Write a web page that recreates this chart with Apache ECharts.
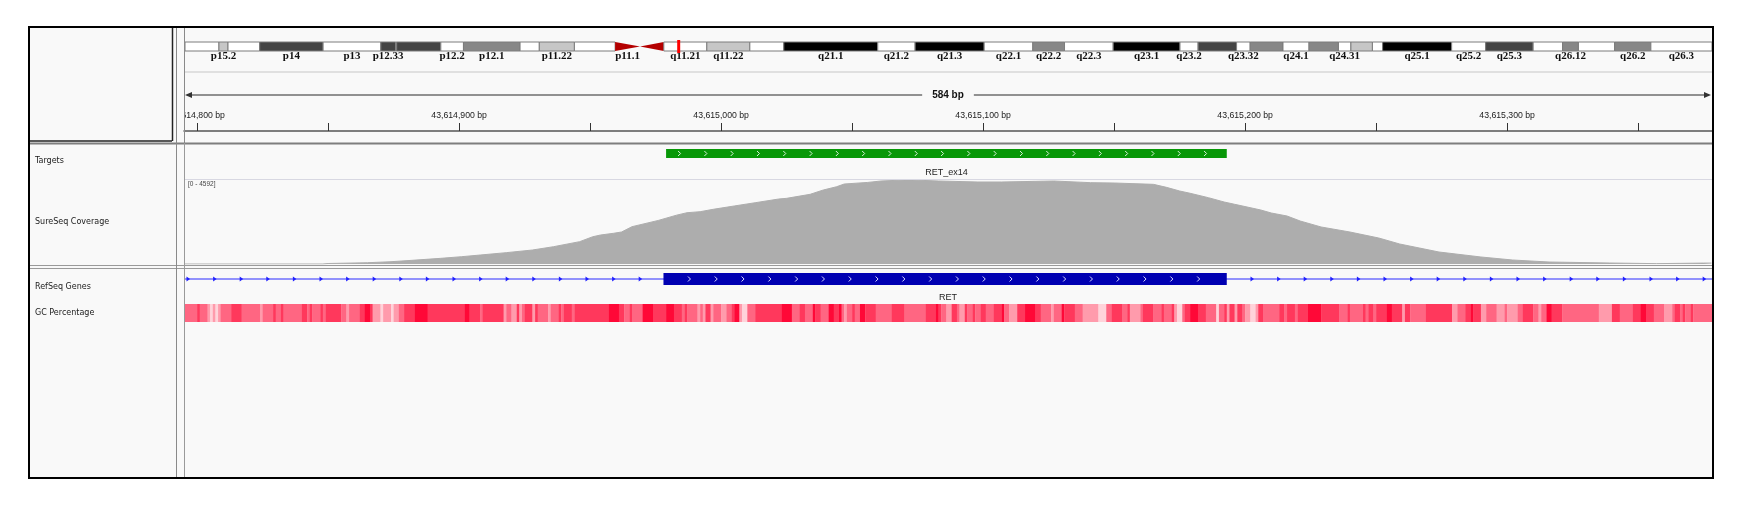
<!DOCTYPE html>
<html>
<head>
<meta charset="utf-8">
<title>RET_ex14 - SureSeq coverage</title>
<script src="https://cdn.jsdelivr.net/npm/echarts@6.0.0/dist/echarts.min.js"></script>
<style>
	html, body { margin: 0; padding: 0; background: #ffffff; }
	#chart { width: 1743px; height: 507px; }
</style>
</head>
<body>
<div id="chart"></div>
<script>
//   locus: chr10, RET exon 14
var viewStart = 43614795.0;
var viewEnd = 43615378.2;

//   ruler
var rulerTicks = [43614800, 43614850, 43614900, 43614950, 43615000, 43615050, 43615100, 43615150, 43615200, 43615250, 43615300, 43615350];
var rulerLabels = [43614800, 43614900, 43615000, 43615100, 43615200, 43615300];

//   chr10 ideogram (Mb)
var chrShownEnd = 134.9;
var currentLocusMb = 43.615;
var bandName = ['p15.3', 'p15.2', 'p15.1', 'p14', 'p13', 'p12.33', 'p12.32', 'p12.31', 'p12.2', 'p12.1', 'p11.23', 'p11.22', 'p11.21', 'p11.1', 'q11.1', 'q11.21', 'q11.22', 'q11.23', 'q21.1', 'q21.2', 'q21.3', 'q22.1', 'q22.2', 'q22.3', 'q23.1', 'q23.2', 'q23.31', 'q23.32', 'q23.33', 'q24.1', 'q24.2', 'q24.31', 'q24.32', 'q24.33', 'q25.1', 'q25.2', 'q25.3', 'q26.11', 'q26.12', 'q26.13', 'q26.2', 'q26.3'];
var bandEnd = [3.0, 3.8, 6.6, 12.2, 17.3, 18.6, 18.7, 22.6, 24.6, 29.6, 31.3, 34.4, 38.0, 40.2, 42.3, 46.1, 49.9, 52.9, 61.2, 64.5, 70.6, 74.9, 77.7, 82.0, 87.9, 89.5, 92.9, 94.1, 97.0, 99.3, 101.9, 103.0, 104.9, 105.8, 111.9, 114.9, 119.1, 121.7, 123.1, 126.3, 129.5, 135.5];
var bandStain = ['gneg', 'gpos25', 'gneg', 'gpos75', 'gneg', 'gpos75', 'gneg', 'gpos75', 'gneg', 'gpos50', 'gneg', 'gpos25', 'gneg', 'acen', 'acen', 'gneg', 'gpos25', 'gneg', 'gpos100', 'gneg', 'gpos100', 'gneg', 'gpos50', 'gneg', 'gpos100', 'gneg', 'gpos75', 'gneg', 'gpos50', 'gneg', 'gpos50', 'gneg', 'gpos25', 'gneg', 'gpos100', 'gneg', 'gpos75', 'gneg', 'gpos50', 'gneg', 'gpos50', 'gneg'];
var bandLabels = ['p15.2', 'p14', 'p13', 'p12.33', 'p12.2', 'p12.1', 'p11.22', 'p11.1', 'q11.21', 'q11.22', 'q21.1', 'q21.2', 'q21.3', 'q22.1', 'q22.2', 'q22.3', 'q23.1', 'q23.2', 'q23.32', 'q24.1', 'q24.31', 'q25.1', 'q25.2', 'q25.3', 'q26.12', 'q26.2', 'q26.3'];

//   Targets
var targetName = 'RET_ex14';
var targetStart = 43614979;
var targetEnd = 43615193;

//   SureSeq Coverage  [position, depth]
var covMax = 4592;
var coverage = [
	[43614795, 0], [43614848, 0], [43614850, 27], [43614865, 70], [43614874, 125], [43614882, 200],
	[43614893, 310], [43614901, 400], [43614908, 490], [43614918, 620], [43614928, 765], [43614936, 945],
	[43614946, 1220], [43614951, 1490], [43614954, 1585], [43614959, 1680], [43614962, 1750], [43614966, 2040],
	[43614976, 2380], [43614983, 2670], [43614987, 2804], [43614992, 2859], [43614997, 2990], [43615005, 3171],
	[43615013, 3350], [43615022, 3553], [43615025, 3590], [43615034, 3810], [43615039, 4045], [43615044, 4220],
	[43615047, 4373], [43615056, 4460], [43615061, 4537], [43615070, 4592], [43615073, 4592], [43615083, 4537],
	[43615098, 4483], [43615107, 4483], [43615127, 4537], [43615141, 4446], [43615150, 4428], [43615165, 4355],
	[43615170, 4190], [43615175, 3991], [43615179, 3866], [43615186, 3625], [43615192, 3389], [43615196, 3264],
	[43615206, 2952], [43615210, 2788], [43615216, 2624], [43615221, 2351], [43615229, 2023], [43615240, 1749],
	[43615251, 1421], [43615259, 1093], [43615274, 656], [43615290, 383], [43615302, 219], [43615316, 109],
	[43615339, 55], [43615357, 20], [43615375, 50], [43615378, 50]
];

//   RefSeq Genes
var geneName = 'RET';
var geneStart = 43572517;
var geneEnd = 43625799;
var exonStart = 43614978;
var exonEnd = 43615193;

//   GC Percentage: runs of [end offset from gcOrigin, GC %]
var gcOrigin = 43614795;
var gcRuns = [
	[5, 45], [6, 55], [9, 45], [10, 35], [11, 25], [12, 35], [13, 25], [14, 35], [18, 45], [22, 55],
	[29, 45], [30, 35], [34, 45], [35, 55], [37, 45], [38, 55], [45, 45], [47, 55], [48, 45], [49, 55],
	[52, 45], [53, 55], [54, 45], [60, 55], [62, 45], [63, 35], [67, 45], [69, 55], [71, 65], [72, 55],
	[75, 35], [76, 25], [79, 35], [80, 25], [82, 35], [84, 45], [88, 55], [93, 65], [107, 55], [109, 65],
	[113, 55], [114, 45], [122, 55], [123, 35], [125, 45], [127, 35], [128, 55], [129, 35], [130, 45], [133, 55],
	[134, 35], [135, 55], [139, 45], [140, 35], [143, 45], [144, 55], [145, 45], [148, 55], [149, 45], [162, 55],
	[166, 65], [168, 55], [170, 45], [171, 55], [175, 45], [179, 65], [184, 55], [187, 65], [190, 55], [191, 45],
	[192, 55], [196, 45], [197, 35], [198, 45], [199, 35], [201, 55], [202, 35], [205, 45], [207, 35], [209, 45],
	[210, 55], [212, 65], [213, 35], [215, 25], [218, 45], [228, 55], [232, 65], [235, 45], [237, 55], [240, 45],
	[241, 65], [243, 55], [246, 45], [248, 65], [250, 55], [251, 65], [252, 45], [253, 35], [255, 45], [256, 55],
	[258, 45], [260, 65], [264, 55], [270, 45], [275, 55], [283, 45], [287, 55], [288, 65], [289, 55], [291, 45],
	[293, 35], [295, 55], [296, 45], [298, 35], [299, 55], [301, 45], [302, 55], [304, 45], [306, 55], [309, 45],
	[312, 55], [313, 65], [315, 45], [318, 35], [321, 55], [325, 65], [327, 55], [331, 45], [332, 35], [335, 45],
	[336, 65], [340, 55], [343, 45], [349, 35], [352, 25], [354, 45], [358, 55], [360, 45], [361, 55], [365, 35],
	[366, 45], [370, 55], [373, 45], [374, 55], [377, 45], [378, 55], [379, 35], [381, 25], [382, 45], [384, 55],
	[387, 65], [390, 55], [394, 45], [395, 25], [397, 45], [398, 55], [399, 35], [401, 55], [402, 35], [404, 55],
	[405, 45], [407, 35], [409, 25], [410, 35], [412, 55], [418, 45], [420, 55], [421, 45], [424, 55], [425, 45],
	[429, 55], [434, 65], [441, 55], [444, 45], [445, 55], [450, 45], [451, 55], [452, 45], [454, 55], [455, 45],
	[459, 55], [461, 65], [465, 55], [466, 35], [468, 55], [474, 45], [484, 55], [486, 35], [489, 45], [491, 55],
	[492, 65], [495, 55], [497, 35], [501, 45], [504, 35], [505, 45], [509, 35], [511, 45], [515, 55], [517, 45],
	[518, 35], [520, 45], [522, 65], [526, 55], [540, 45], [545, 35], [548, 55], [553, 45], [556, 55], [558, 65],
	[561, 55], [565, 45], [568, 35], [569, 45], [571, 55], [572, 45], [573, 55], [575, 45], [576, 55], [584, 45]
];

var BG = '#f9f9f9';
var stainColor = { gneg: '#ffffff', gpos25: '#c6c6c6', gpos50: '#878787', gpos75: '#434343', gpos100: '#000000', acen: '#b40000' };

var chart = echarts.init(document.getElementById('chart'), null, { renderer: 'canvas', width: 1743, height: 507 });

//   band table
var bandData = [];
for (var i = 0; i < bandName.length; i++) {
	bandData.push([i === 0 ? 0 : bandEnd[i - 1], bandEnd[i]]);
}

//   gc table
var gcData = [];
for (var k = 0; k < gcRuns.length; k++) {
	var from = k === 0 ? 0 : gcRuns[k - 1][0];
	gcData.push([gcOrigin + from, gcOrigin + gcRuns[k][0], gcRuns[k][1]]);
}

var fmtBp = function (v) {
	return String(Math.round(v)).replace(/\B(?=(\d{3})+(?!\d))/g, ',') + ' bp';
};

//   chevrons for strand
var chevrons = function (x0, x1, first, step, ym, color) {
	var out = [];
	for (var x = x0 + first; x < x1 - 4; x += step) {
		out.push({
			type: 'polyline',
			shape: { points: [[x - 1.5, ym - 2.5], [x + 1, ym], [x - 1.5, ym + 2.5]] },
			style: { stroke: color, lineWidth: 1, fill: null }
		});
	}
	return out;
};

var renderBand = function (params, api) {
	var idx = params.dataIndex;
	var cs = params.coordSys;
	var s = api.value(0);
	var e = Math.min(api.value(1), chrShownEnd);
	if (s >= chrShownEnd) return null;
	var x0 = api.coord([s, 0])[0];
	var x1 = api.coord([e, 0])[0];
	var y0 = cs.y, y1 = cs.y + cs.height, ym = cs.y + cs.height / 2;
	var children = [];
	if (bandStain[idx] === 'acen') {
		var pts = bandName[idx].charAt(0) === 'p'
			? [[x0, y0], [x1, ym], [x0, y1]]
			: [[x1, y0], [x0, ym], [x1, y1]];
		children.push({ type: 'polygon', shape: { points: pts }, style: { fill: stainColor.acen } });
	} else {
		children.push({
			type: 'rect',
			shape: { x: x0, y: y0, width: x1 - x0, height: cs.height },
			style: { fill: stainColor[bandStain[idx]], stroke: '#7c7c7c', lineWidth: 1 }
		});
	}
	if (bandLabels.indexOf(bandName[idx]) !== -1) {
		children.push({
			type: 'text',
			style: {
				text: bandName[idx], x: (x0 + x1) / 2, y: y1 + 5,
				align: 'center', verticalAlign: 'middle',
				font: 'bold 11px "Liberation Serif"', fill: '#111111'
			}
		});
	}
	return { type: 'group', children: children };
};

var renderLocus = function (params, api) {
	var p = api.coord([api.value(0), 0]);
	var cs = params.coordSys;
	return {
		type: 'rect',
		shape: { x: p[0] - 1.5, y: cs.y - 2, width: 3, height: cs.height + 4 },
		style: { fill: '#ff0000' }
	};
};

var renderTarget = function (params, api) {
	var cs = params.coordSys;
	var x0 = api.coord([api.value(0), 0])[0];
	var x1 = api.coord([api.value(1), 0])[0];
	var ym = cs.y + cs.height / 2;
	var children = [{
		type: 'rect',
		shape: { x: x0, y: cs.y, width: x1 - x0, height: cs.height },
		style: { fill: '#089808' }
	}];
	children = children.concat(chevrons(x0, x1, 13.5, 26.3, ym, '#d8f2d8'));
	children.push({
		type: 'text',
		style: {
			text: targetName, x: (x0 + x1) / 2, y: cs.y + cs.height + 15,
			align: 'center', verticalAlign: 'middle',
			font: '9px "Liberation Sans"', fill: '#222222'
		}
	});
	return { type: 'group', children: children };
};

var renderGene = function (params, api) {
	var cs = params.coordSys;
	var g0 = Math.max(api.coord([api.value(0), 0])[0], cs.x);
	var g1 = Math.min(api.coord([api.value(1), 0])[0], cs.x + cs.width);
	var e0 = api.coord([api.value(2), 0])[0];
	var e1 = api.coord([api.value(3), 0])[0];
	var ym = cs.y + cs.height / 2;
	var children = [{
		type: 'line',
		shape: { x1: g0, y1: ym, x2: g1, y2: ym },
		style: { stroke: '#2b2bff', lineWidth: 1 }
	}];
	for (var x = g0 + 4; x < g1 - 2; x += 26.6) {
		if (x > e0 - 3 && x < e1 + 3) continue;
		children.push({
			type: 'polygon',
			shape: { points: [[x - 1.5, ym - 2.5], [x + 2, ym], [x - 1.5, ym + 2.5]] },
			style: { fill: '#1f1fff' }
		});
	}
	children.push({
		type: 'rect',
		shape: { x: e0, y: cs.y, width: e1 - e0, height: cs.height },
		style: { fill: '#0000b2' }
	});
	children = children.concat(chevrons(e0, e1, 26, 26.8, ym, '#dcdcff'));
	children.push({
		type: 'text',
		style: {
			text: geneName, x: (g0 + g1) / 2, y: cs.y + cs.height + 13,
			align: 'center', verticalAlign: 'middle',
			font: '9px "Liberation Sans"', fill: '#222222'
		}
	});
	return { type: 'group', children: children };
};

var renderGc = function (params, api) {
	var cs = params.coordSys;
	var x0 = Math.max(api.coord([api.value(0), 0])[0], cs.x);
	var x1 = Math.min(api.coord([api.value(1), 0])[0], cs.x + cs.width);
	return {
		type: 'rect',
		shape: { x: x0, y: cs.y, width: x1 - x0 + 0.3, height: cs.height },
		style: { fill: api.visual('color') }
	};
};

var hiddenX = function (gi, min, max) {
	return { gridIndex: gi, type: 'value', min: min, max: max, show: false };
};
var hiddenY = function (gi, max) {
	return { gridIndex: gi, type: 'value', min: 0, max: max, show: false };
};

var spanText = Math.ceil(viewEnd - viewStart) + ' bp';

var line = function (x1, y1, x2, y2, color, w, z) {
	return { type: 'line', silent: true, z: z || 60, shape: { x1: x1, y1: y1, x2: x2, y2: y2 }, style: { stroke: color, lineWidth: w } };
};
var label = function (text, x, y) {
	return {
		type: 'text', silent: true, z: 60,
		style: { text: text, x: x, y: y, font: '8px "DejaVu Sans"', fill: '#1a1a1a', textAlign: 'left', textVerticalAlign: 'middle' }
	};
};

var option = {
	backgroundColor: '#ffffff',
	animation: false,
	grid: [
		{ left: 185, top: 42, width: 1527, height: 9, outerBoundsMode: 'none' },
		{ left: 184, top: 100, width: 1528, height: 31, outerBoundsMode: 'none' },
		{ left: 184, top: 149, width: 1528, height: 9, outerBoundsMode: 'none' },
		{ left: 184, top: 180, width: 1528, height: 84, outerBoundsMode: 'none' },
		{ left: 184, top: 273, width: 1528, height: 12, outerBoundsMode: 'none' },
		{ left: 184, top: 304, width: 1528, height: 18, outerBoundsMode: 'none' }
	],
	xAxis: [
		hiddenX(0, 0, chrShownEnd),
		{
			gridIndex: 1, type: 'value', min: viewStart, max: viewEnd, position: 'bottom', z: 5,
			axisLine: { show: true, lineStyle: { color: '#555555', width: 1.5 } },
			axisTick: { show: true, inside: true, length: 8, customValues: rulerTicks, lineStyle: { color: '#333333', width: 1 } },
			axisLabel: {
				show: true, inside: true, margin: 11, customValues: rulerLabels, formatter: fmtBp,
				fontSize: 8.7, fontFamily: 'Liberation Sans', color: '#222222'
			},
			splitLine: { show: false }
		},
		hiddenX(2, viewStart, viewEnd),
		hiddenX(3, viewStart, viewEnd),
		hiddenX(4, viewStart, viewEnd),
		hiddenX(5, viewStart, viewEnd)
	],
	yAxis: [hiddenY(0, 1), hiddenY(1, 1), hiddenY(2, 1), hiddenY(3, covMax), hiddenY(4, 1), hiddenY(5, 1)],
	visualMap: {
		type: 'piecewise', show: false, seriesIndex: 5, dimension: 2,
		pieces: [
			{ lt: 30, color: '#ffd3da' },
			{ gte: 30, lt: 40, color: '#ff9bac' },
			{ gte: 40, lt: 50, color: '#ff6682' },
			{ gte: 50, lt: 60, color: '#ff385c' },
			{ gte: 60, color: '#ff0837' }
		]
	},
	series: [
		{ type: 'custom', xAxisIndex: 0, yAxisIndex: 0, renderItem: renderBand, data: bandData, silent: true, z: 3 },
		{ type: 'custom', xAxisIndex: 0, yAxisIndex: 0, renderItem: renderLocus, data: [[currentLocusMb]], silent: true, z: 4 },
		{ type: 'custom', xAxisIndex: 2, yAxisIndex: 2, renderItem: renderTarget, data: [[targetStart, targetEnd]], silent: true },
		{
			type: 'line', xAxisIndex: 3, yAxisIndex: 3, data: coverage, symbol: 'none', silent: true,
			lineStyle: { color: '#adadad', width: 1 }, areaStyle: { color: '#adadad', opacity: 1 }
		},
		{ type: 'custom', xAxisIndex: 4, yAxisIndex: 4, renderItem: renderGene, data: [[geneStart, geneEnd, exonStart, exonEnd]], silent: true },
		{ type: 'custom', xAxisIndex: 5, yAxisIndex: 5, renderItem: renderGc, data: gcData, silent: true }
	],
	graphic: {
		elements: [
			//   panel background
			{ type: 'rect', silent: true, z: -10, shape: { x: 29, y: 27, width: 1684, height: 451 }, style: { fill: BG } },
			//   clip ruler label at the data panel edge
			{ type: 'rect', silent: true, z: 50, shape: { x: 158, y: 104, width: 27, height: 22 }, style: { fill: BG } },
			//   span arrow
			line(187, 95, 1709, 95, '#6e6e6e', 1.5),
			{ type: 'polygon', silent: true, z: 60, shape: { points: [[185, 95], [192, 92], [192, 98]] }, style: { fill: '#333333' } },
			{ type: 'polygon', silent: true, z: 60, shape: { points: [[1711, 95], [1704, 92], [1704, 98]] }, style: { fill: '#333333' } },
			{
				type: 'text', silent: true, z: 61,
				style: {
					text: spanText, x: 948, y: 95, font: 'bold 10px "Liberation Sans"', fill: '#111111',
					textAlign: 'center', textVerticalAlign: 'middle', backgroundColor: BG, padding: [1, 10]
				}
			},
			//   separators
			line(184, 72, 1712, 72, '#e0e0e0', 2),
			line(184.5, 28, 184.5, 143, '#8a8a8a', 1),
			line(29, 141, 172, 141, '#222222', 1.5),
			line(172.5, 27, 172.5, 141, '#222222', 1.5),
			line(29, 143.5, 1712, 143.5, '#7e7e7e', 2),
			line(184, 179.5, 1712, 179.5, '#d8d8e2', 1),
			line(29, 265.5, 1712, 265.5, '#9a9a9a', 1.2),
			line(29, 268.5, 1712, 268.5, '#9a9a9a', 1.2),
			line(176.5, 27, 176.5, 478, '#8a8a8a', 1),
			line(184.5, 143, 184.5, 478, '#9a9a9a', 1),
			//   track names
			label('Targets', 35, 161),
			label('SureSeq Coverage', 35, 222),
			label('RefSeq Genes', 35, 287),
			label('GC Percentage', 35, 313),
			{
				type: 'text', silent: true, z: 60,
				style: { text: '[0 - ' + covMax + ']', x: 188, y: 184, font: '6.5px "Liberation Sans"', fill: '#444444', textAlign: 'left', textVerticalAlign: 'middle' }
			},
			//   frame
			{ type: 'rect', silent: true, z: 70, shape: { x: 29, y: 27, width: 1684, height: 451 }, style: { fill: 'none', stroke: '#000000', lineWidth: 2 } }
		]
	}
};

chart.setOption(option);
</script>
</body>
</html>
